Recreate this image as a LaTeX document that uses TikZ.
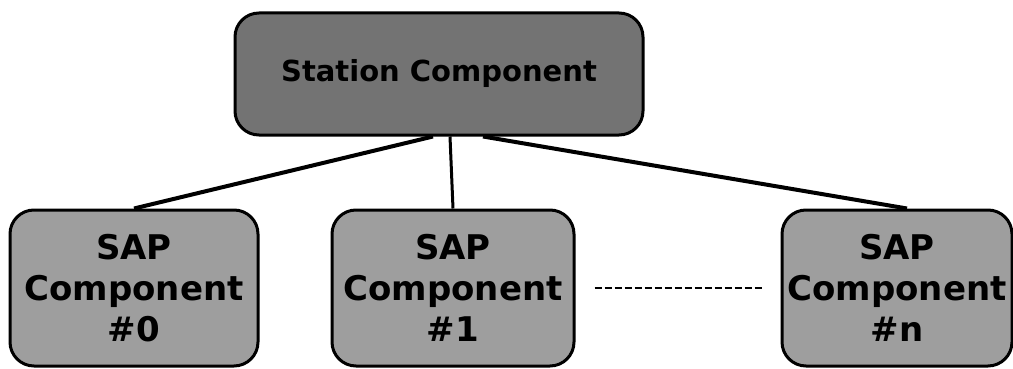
\documentclass[tikz,border=0pt]{standalone}
\usepackage{fontspec}
\setmainfont{DejaVu Sans}
\usepackage{tikz}

\tikzset{
    compbox/.style={draw=black, line width=3pt, rounded corners=24pt,
        inner sep=0pt, align=center, font=\bfseries},
    link/.style={draw=black, line width=4pt}
}

\begin{document}
\begin{tikzpicture}[x=1pt, y=-1pt]
    \useasboundingbox (0,0) rectangle (1013,369);

    \node[compbox, fill=black!55, minimum width=408pt, minimum height=122pt,
          font=\bfseries\fontsize{29}{34}\selectfont] (station) at (439,74) {Station Component};

    \foreach \name/\x/\w/\lab in {sap0/134/248/0, sap1/453/242/1, sapn/897/230/n}
        \node[compbox, fill=black!38, minimum width=\w pt, minimum height=156pt,
              font=\bfseries\fontsize{34}{41}\selectfont] (\name) at (\x,288) {SAP\\Component\\\#\lab};

    \draw[link] ([xshift=-6pt]station.south) -- (sap0.north);
    \draw[link, line width=3pt] ([xshift=11pt]station.south) -- (sap1.north);
    \draw[link] ([xshift=44pt]station.south) -- ([xshift=10pt]sapn.north);

    \draw[line width=2pt, dash pattern=on 7pt off 3pt] ([xshift=19pt]sap1.east) -- ([xshift=-17pt]sapn.west);
\end{tikzpicture}
\end{document}
